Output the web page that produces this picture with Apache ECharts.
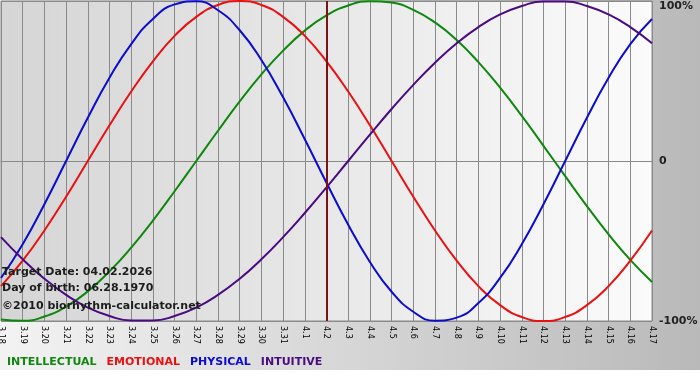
<!DOCTYPE html>
<html>
<head>
<meta charset="utf-8">
<script src="https://cdn.jsdelivr.net/npm/echarts@6/dist/echarts.min.js"></script>
<style>html,body{margin:0;padding:0;background:#fff;}#c{width:700px;height:380px;}</style>
</head>
<body>
<div id="c"></div>
<script>
var categories = ['3.18','3.19','3.20','3.21','3.22','3.23','3.24','3.25','3.26','3.27','3.28','3.29','3.30','3.31',
  '4.1','4.2','4.3','4.4','4.5','4.6','4.7','4.8','4.9','4.10','4.11','4.12','4.13','4.14','4.15','4.16','4.17'];
var intellectual = [-99.0,-99.9,-97.2,-91.0,-81.5,-69.0,-54.1,-37.2,-18.9,0,18.9,37.2,54.1,69.0,81.5,91.0,97.2,99.9,99.0,94.5,86.6,75.6,61.8,45.8,28.2,9.5,-9.5,-28.2,-45.8,-61.8,-75.6];
var emotional = [-78.2,-62.3,-43.4,-22.3,0,22.3,43.4,62.3,78.2,90.1,97.5,100,97.5,90.1,78.2,62.3,43.4,22.3,0,-22.3,-43.4,-62.3,-78.2,-90.1,-97.5,-100,-97.5,-90.1,-78.2,-62.3,-43.4];
var physical = [-73.1,-52.0,-27.0,0,27.0,52.0,73.1,88.8,97.9,99.8,94.2,81.7,63.1,39.8,13.6,-13.6,-39.8,-63.1,-81.7,-94.2,-99.8,-97.9,-88.8,-73.1,-52.0,-27.0,0,27.0,52.0,73.1,88.8];
var intuitive = [-47.6,-61.4,-73.6,-83.7,-91.6,-96.9,-99.7,-99.7,-96.9,-91.6,-83.7,-73.6,-61.4,-47.6,-32.5,-16.5,0,16.5,32.5,47.6,61.4,73.6,83.7,91.6,96.9,99.7,99.7,96.9,91.6,83.7,73.6];
var yTickLabels = {'100':'100%','0':'0','-100':'-100%'};
var targetDay = '4.2';
var infoLines = ['Target Date: 04.02.2026','Day of birth: 06.28.1970','\u00A92010 biorhythm-calculator.net'];

var colors = {INTELLECTUAL:'#0f870f', EMOTIONAL:'#e81010', PHYSICAL:'#0c0ccc', INTUITIVE:'#4a0a80'};
var FF = '"DejaVu Sans", Verdana, sans-serif';

function line(name, data, extra) {
  var s = {
    name: name, type: 'line', data: data, smooth: true, showSymbol: false,
    lineStyle: {color: colors[name], width: 2}, itemStyle: {color: colors[name]},
    z: 3
  };
  if (extra) for (var k in extra) s[k] = extra[k];
  return s;
}

var chart = echarts.init(document.getElementById('c'), null, {renderer: 'canvas'});
chart.setOption({
  animation: false,
  backgroundColor: '#ffffff',
  graphic: [
    {type: 'rect', left: 0, top: 0, z: -10, silent: true,
     shape: {width: 700, height: 370},
     style: {fill: new echarts.graphic.LinearGradient(0, 0, 1, 0, [
       {offset: 0, color: '#f3f3f3'}, {offset: 1, color: '#b9b9b9'}])}},
    {type: 'text', left: 2, top: 267, z: 100, style: {text: infoLines[0], fill: '#1c1c1c', font: 'bold 11px ' + FF}},
    {type: 'text', left: 2, top: 283, z: 100, style: {text: infoLines[1], fill: '#1c1c1c', font: 'bold 11px ' + FF}},
    {type: 'text', left: 2, top: 301, z: 100, style: {text: infoLines[2], fill: '#1c1c1c', font: 'bold 11px ' + FF}}
  ],
  grid: {
    left: 1, right: 48, top: 1, bottom: 59, show: true,
    outerBoundsMode: 'none', containLabel: false,
    borderColor: '#8a8a8a', borderWidth: 1,
    backgroundColor: new echarts.graphic.LinearGradient(0, 0, 1, 0, [
      {offset: 0, color: '#d5d5d5'}, {offset: 1, color: '#fbfbfb'}])
  },
  legend: {
    left: 1, top: 357, padding: 0, itemWidth: 0, itemHeight: 0, itemGap: 4,
    itemStyle: {opacity: 0}, lineStyle: {opacity: 0},
    textStyle: {fontFamily: FF, fontWeight: 'bold', fontSize: 11},
    data: [
      {name: 'INTELLECTUAL', textStyle: {color: colors.INTELLECTUAL}},
      {name: 'EMOTIONAL', textStyle: {color: colors.EMOTIONAL}},
      {name: 'PHYSICAL', textStyle: {color: colors.PHYSICAL}},
      {name: 'INTUITIVE', textStyle: {color: colors.INTUITIVE}}
    ]
  },
  xAxis: {
    type: 'category', data: categories, boundaryGap: false,
    axisLine: {lineStyle: {color: '#8a8a8a', width: 1}},
    axisTick: {show: true, length: 4, lineStyle: {color: '#8a8a8a'}, interval: 0},
    axisLabel: {interval: 0, rotate: -90, margin: 5, color: '#000', fontSize: 8, fontFamily: FF},
    splitLine: {show: true, interval: 0, lineStyle: {color: '#8a8a8a', width: 1}}
  },
  yAxis: {
    type: 'value', position: 'right', min: -100, max: 100, interval: 100,
    axisLine: {show: false}, axisTick: {show: false},
    axisLabel: {margin: 7, color: '#222', fontSize: 11, fontWeight: 'bold', fontFamily: FF,
      verticalAlignMaxLabel: 'top',
      formatter: function (v) { return yTickLabels[String(v)]; }},
    splitLine: {show: true, lineStyle: {color: '#8a8a8a', width: 1}}
  },
  series: [
    line('INTELLECTUAL', intellectual, {
      markLine: {silent: true, symbol: ['none', 'none'], label: {show: false},
        lineStyle: {color: '#7a1414', width: 2, type: 'solid'},
        data: [{xAxis: targetDay}]}
    }),
    line('EMOTIONAL', emotional),
    line('PHYSICAL', physical),
    line('INTUITIVE', intuitive)
  ]
});
</script>
</body>
</html>
